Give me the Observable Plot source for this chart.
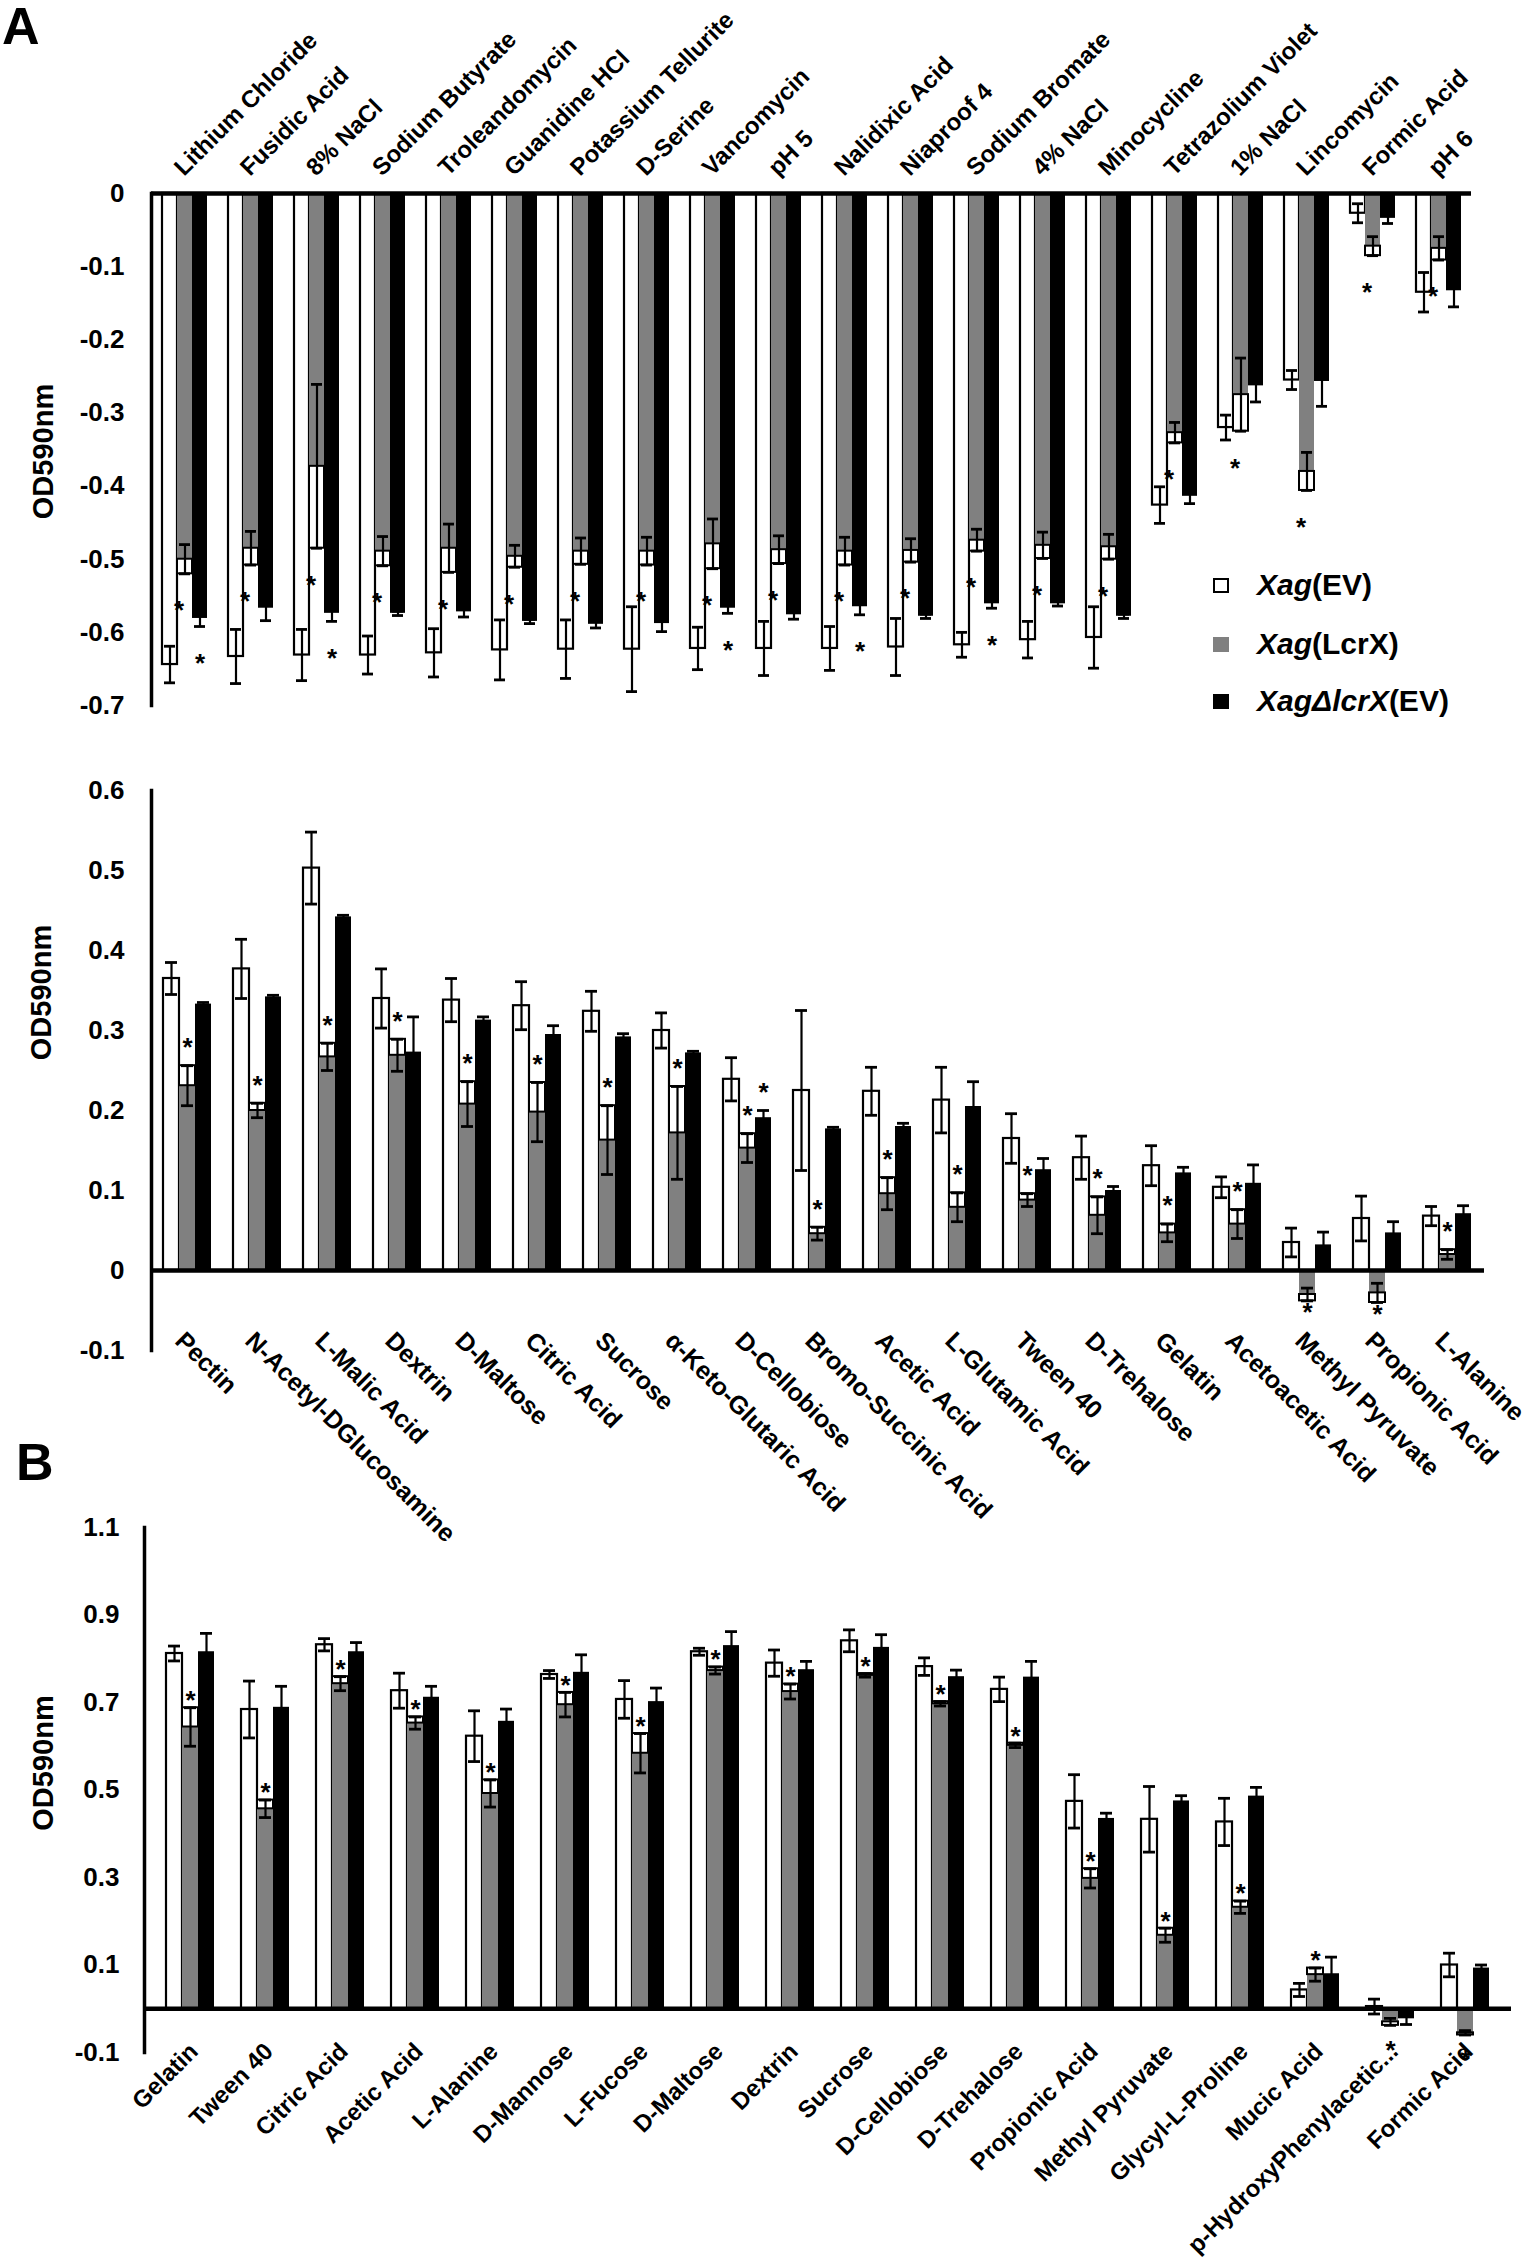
<!DOCTYPE html>
<html>
<head>
<meta charset="utf-8">
<script src="https://cdn.jsdelivr.net/npm/d3@7"></script>
<script src="https://cdn.jsdelivr.net/npm/@observablehq/plot@0.6"></script>
<style>
  body { margin: 0; background: #fff; }
  #wrap { position: relative; width: 1535px; height: 2263px; background: #fff;
          font-family: "Liberation Sans", Arial, sans-serif; color: #000; }
  .panel { position: absolute; left: 0; }
  .tag { position: absolute; font-weight: bold; font-size: 52px; line-height: 52px; }
  .lg { position: absolute; left: 1213px; height: 32px; display: flex; align-items: center;
        font-weight: bold; font-size: 30px; }
  .sw { width: 16px; height: 15px; box-sizing: border-box; margin-right: 28px; }
</style>
</head>
<body>
<div id="wrap"></div>
<script>
// ---------- series ----------
const series = ["EV", "LcrX", "dEV"];
const legendItalic = ["Xag", "Xag", "XagΔlcrX"];
const legendRest = ["(EV)", "(LcrX)", "(EV)"];

// ---------- Panel A (upper): inhibited growth ----------
const catsA1 = ["Lithium Chloride","Fusidic Acid","8% NaCl","Sodium Butyrate","Troleandomycin","Guanidine HCl","Potassium Tellurite","D-Serine","Vancomycin","pH 5","Nalidixic Acid","Niaproof 4","Sodium Bromate","4% NaCl","Minocycline","Tetrazolium Violet","1% NaCl","Lincomycin","Formic Acid","pH 6"];
const evA1    = [-0.644,-0.633,-0.631,-0.631,-0.628,-0.624,-0.623,-0.623,-0.622,-0.622,-0.622,-0.620,-0.617,-0.610,-0.607,-0.426,-0.320,-0.255,-0.027,-0.135];
const evA1Sd  = [0.025,0.037,0.035,0.026,0.033,0.041,0.040,0.058,0.029,0.037,0.030,0.039,0.017,0.025,0.042,0.025,0.017,0.013,0.013,0.027];
const lcrA1   = [-0.500,-0.485,-0.373,-0.489,-0.485,-0.496,-0.489,-0.489,-0.479,-0.487,-0.489,-0.488,-0.474,-0.481,-0.483,-0.327,-0.275,-0.380,-0.072,-0.075];
const lcrA1Sd = [0.020,0.023,0.112,0.020,0.033,0.015,0.018,0.019,0.034,0.019,0.019,0.016,0.015,0.018,0.017,0.014,0.050,0.026,0.013,0.016];
const dA1     = [-0.581,-0.567,-0.574,-0.574,-0.572,-0.585,-0.589,-0.588,-0.567,-0.576,-0.565,-0.578,-0.561,-0.561,-0.578,-0.414,-0.263,-0.257,-0.034,-0.133];
const dA1Sd   = [0.011,0.017,0.011,0.003,0.007,0.003,0.005,0.011,0.007,0.006,0.011,0.003,0.006,0.003,0.003,0.010,0.022,0.034,0.007,0.022];
const starLcrA1 = [1,1,1,1,1,1,1,1,1,1,1,1,1,1,1,1,1,1,1,1];
const starDA1   = [1,0,1,0,0,0,0,0,1,0,1,0,1,0,0,0,0,0,0,0];
const ticksA1 = [0,-0.1,-0.2,-0.3,-0.4,-0.5,-0.6,-0.7];

// ---------- Panel A (lower): enhanced growth ----------
const catsA2 = ["Pectin","N-Acetyl-DGlucosamine","L-Malic Acid","Dextrin","D-Maltose","Citric Acid","Sucrose","α-Keto-Glutaric Acid","D-Cellobiose","Bromo-Succinic Acid","Acetic Acid","L-Glutamic Acid","Tween 40","D-Trehalose","Gelatin","Acetoacetic Acid","Methyl Pyruvate","Propionic Acid","L-Alanine"];
const evA2    = [0.365,0.377,0.503,0.340,0.338,0.331,0.324,0.300,0.239,0.225,0.224,0.213,0.165,0.141,0.131,0.104,0.035,0.065,0.068];
const evA2Sd  = [0.020,0.037,0.045,0.037,0.027,0.030,0.025,0.022,0.027,0.100,0.030,0.041,0.031,0.027,0.025,0.013,0.018,0.028,0.012];
const lcrA2   = [0.231,0.200,0.267,0.269,0.208,0.198,0.163,0.172,0.153,0.046,0.096,0.079,0.088,0.069,0.047,0.058,-0.030,-0.028,0.020];
const lcrA2Sd = [0.025,0.009,0.017,0.020,0.028,0.037,0.043,0.058,0.018,0.008,0.020,0.018,0.008,0.023,0.011,0.018,0.008,0.012,0.006];
const dA2     = [0.333,0.342,0.442,0.273,0.313,0.295,0.292,0.272,0.191,0.177,0.180,0.205,0.126,0.100,0.122,0.109,0.032,0.047,0.071];
const dA2Sd   = [0.002,0.002,0.002,0.044,0.004,0.011,0.004,0.002,0.009,0.002,0.004,0.031,0.014,0.005,0.007,0.023,0.016,0.014,0.010];
const starLcrA2 = [1,1,1,1,1,1,1,1,1,1,1,1,1,1,1,1,1,1,1];
const starDA2   = [0,0,0,0,0,0,0,0,1,0,0,0,0,0,0,0,0,0,0];
const ticksA2 = [0.6,0.5,0.4,0.3,0.2,0.1,0,-0.1];

// ---------- Panel B ----------
const catsB = ["Gelatin","Tween 40","Citric Acid","Acetic Acid","L-Alanine","D-Mannose","L-Fucose","D-Maltose","Dextrin","Sucrose","D-Cellobiose","D-Trehalose","Propionic Acid","Methyl Pyruvate","Glycyl-L-Proline","Mucic Acid","p-HydroxyPhenylacetic...","Formic Acid"];
const evB    = [0.812,0.684,0.832,0.727,0.623,0.764,0.707,0.816,0.790,0.841,0.782,0.730,0.474,0.433,0.427,0.043,0.005,0.100];
const evBSd  = [0.017,0.065,0.014,0.040,0.058,0.009,0.043,0.008,0.030,0.025,0.020,0.028,0.061,0.075,0.054,0.015,0.017,0.027];
const lcrB   = [0.644,0.457,0.743,0.653,0.492,0.695,0.584,0.773,0.725,0.762,0.697,0.602,0.298,0.168,0.232,0.078,-0.030,-0.055];
const lcrBSd = [0.044,0.020,0.016,0.014,0.031,0.028,0.045,0.008,0.017,0.004,0.005,0.005,0.022,0.016,0.014,0.015,0.008,0.005];
const dB     = [0.816,0.689,0.816,0.712,0.657,0.769,0.702,0.830,0.775,0.826,0.759,0.758,0.435,0.475,0.486,0.080,-0.023,0.093];
const dBSd   = [0.042,0.048,0.021,0.025,0.028,0.040,0.031,0.032,0.019,0.029,0.015,0.036,0.012,0.012,0.020,0.038,0.013,0.007];
const starLcrB = [1,1,1,1,1,1,1,1,1,1,1,1,1,1,1,1,1,1];
const starDB   = [0,0,0,0,0,0,0,0,0,0,0,0,0,0,0,0,0,0];
const ticksB = [1.1,0.9,0.7,0.5,0.3,0.1,-0.1];

// ---------- helpers ----------
const fillOf = {EV: "#ffffff", LcrX: "#808080", dEV: "#000000"};
const FONT = "Liberation Sans, Arial, sans-serif";
const fmt = d => d === 0 ? "0" : String(Math.round(d * 10) / 10);

function rowsOf(cats, vals, sds, stars) {
  const rows = [];
  cats.forEach((c, i) => series.forEach((s, k) => {
    rows.push({cat: c, series: s, mean: vals[k][i], sd: sds[k][i], star: stars[k] ? !!stars[k][i] : false});
  }));
  return rows;
}
const outer = d => d.mean + (d.mean < 0 ? -d.sd : d.sd);

function common(o) {
  return {
    width: 1535, height: o.height,
    marginTop: o.mt, marginBottom: o.mb, marginLeft: o.ml, marginRight: o.mr,
    style: {background: "transparent", overflow: "visible", fontFamily: FONT}
  };
}

function barsPlot(o) {
  const rows = rowsOf(o.cats, o.vals, o.sds, o.stars);
  const ev = rows.filter(d => d.series === "EV");
  const gr = rows.filter(d => d.series === "LcrX");
  const bk = rows.filter(d => d.series === "dEV");
  const posStar = rows.filter(d => d.star && d.mean >= 0);
  const negStarG = rows.filter(d => d.star && d.mean < 0 && d.series === "LcrX");
  const negStarD = rows.filter(d => d.star && d.mean < 0 && d.series !== "LcrX");
  const sw = 2.2;
  return Plot.plot({
    ...common(o),
    fx: {domain: o.cats, paddingInner: o.pi, paddingOuter: o.po, axis: null, label: null},
    x: {domain: series, padding: 0, axis: null},
    y: {domain: o.yDomain, axis: null},
    marks: [
      Plot.barY(ev, {fx: "cat", x: "series", y1: 0, y2: "mean", fill: "#fff", stroke: "#000", strokeWidth: sw}),
      Plot.barY(gr, {fx: "cat", x: "series", y1: 0, y2: "mean", fill: fillOf.LcrX}),
      Plot.barY(bk, {fx: "cat", x: "series", y1: 0, y2: "mean", fill: fillOf.dEV}),
      Plot.barY(gr, {fx: "cat", x: "series", y1: "mean", y2: outer, fill: "#fff", stroke: "#000", strokeWidth: 2}),
      Plot.ruleX(rows, {fx: "cat", x: "series", y1: d => d.mean - d.sd, y2: d => d.mean + d.sd, stroke: "#000", strokeWidth: sw}),
      Plot.tickY(rows, {fx: "cat", x: "series", y: d => d.mean - d.sd, stroke: "#000", strokeWidth: sw + 0.6, insetLeft: 2, insetRight: 2}),
      Plot.tickY(rows, {fx: "cat", x: "series", y: d => d.mean + d.sd, stroke: "#000", strokeWidth: sw + 0.6, insetLeft: 2, insetRight: 2}),
      Plot.text(posStar, {fx: "cat", x: "series", y: outer, text: () => "*", dy: o.starUp, fontSize: 26, fontWeight: "bold"}),
      Plot.text(negStarG, {fx: "cat", x: "series", y: outer, text: () => "*", dy: o.starDown, dx: o.starGdx, fontSize: 26, fontWeight: "bold"}),
      Plot.text(negStarD, {fx: "cat", x: "series", y: outer, text: () => "*", dy: o.starDown, fontSize: 26, fontWeight: "bold"}),
      Plot.text(o.cats, {fx: d => d, text: d => d, frameAnchor: o.labAnchor, rotate: o.labRotate, textAnchor: o.labText, lineAnchor: "middle", dx: o.labDx, dy: o.labDy, fontSize: o.labSize, fontWeight: "bold"})
    ]
  });
}

function axesPlot(o) {
  return Plot.plot({
    ...common(o),
    y: {domain: o.yDomain, axis: null},
    marks: [
      Plot.ruleY([0], {stroke: "#000", strokeWidth: 4.5}),
      Plot.frame({anchor: "left", stroke: "#000", strokeWidth: 3.5}),
      Plot.text(o.ticks, {y: d => d, text: fmt, frameAnchor: "left", textAnchor: "end", dx: o.tickDx, fontSize: 26, fontWeight: "bold"}),
      Plot.text(["OD590nm"], {frameAnchor: "left", textAnchor: "middle", rotate: -90, dx: o.ylDx, dy: o.ylDy, fontSize: 29, fontWeight: "bold"})
    ]
  });
}

const wrap = document.getElementById("wrap");
function place(node, top) {
  node.classList.add("panel");
  node.style.top = top + "px";
  wrap.appendChild(node);
}
function panel(o, top) {
  place(barsPlot(o), top);
  place(axesPlot(o), top);
}

panel({
  cats: catsA1, vals: [evA1, lcrA1, dA1], sds: [evA1Sd, lcrA1Sd, dA1Sd], stars: [null, starLcrA1, starDA1],
  height: 760, mt: 193, mb: 55, ml: 151, mr: 64, pi: 0.305, po: 0.12, yDomain: [-0.7, 0], ticks: ticksA1,
  tickDx: -27, ylDx: -108, ylDy: 2, starUp: -18, starDown: 37, starGdx: -6,
  labAnchor: "top", labRotate: -45, labText: "start", labDx: -6, labDy: -22, labSize: 24
}, 0);

panel({
  cats: catsA2, vals: [evA2, lcrA2, dA2], sds: [evA2Sd, lcrA2Sd, dA2Sd], stars: [null, starLcrA2, starDA2],
  height: 800, mt: 30, mb: 210, ml: 151, mr: 51, pi: 0.31, po: 0.12, yDomain: [-0.1, 0.6], ticks: ticksA2,
  tickDx: -27, ylDx: -110, ylDy: -78, starUp: -18, starDown: 12, starGdx: 0,
  labAnchor: "bottom", labRotate: 45, labText: "start", labDx: -8, labDy: -14, labSize: 25
}, 760);

panel({
  cats: catsB, vals: [evB, lcrB, dB], sds: [evBSd, lcrBSd, dBSd], stars: [null, starLcrB, starDB],
  height: 843, mt: 107, mb: 211, ml: 144, mr: 24, pi: 0.345, po: 0.17, yDomain: [-0.1, 1.1], ticks: ticksB,
  tickDx: -25, ylDx: -101, ylDy: -27, starUp: -7, starDown: 25, starGdx: 0,
  labAnchor: "bottom", labRotate: -45, labText: "end", labDx: 4, labDy: -5, labSize: 24
}, 1420);

// panel tags
[["A", 2, 0], ["B", 16, 1436]].forEach(([t, x, y]) => {
  const d = document.createElement("div");
  d.className = "tag"; d.textContent = t;
  d.style.left = x + "px"; d.style.top = y + "px";
  wrap.appendChild(d);
});

// legend
const legendTop = [569, 628, 685];
series.forEach((s, i) => {
  const row = document.createElement("div");
  row.className = "lg";
  row.style.top = legendTop[i] + "px";
  const sw = document.createElement("div");
  sw.className = "sw";
  sw.style.background = fillOf[s];
  sw.style.border = s === "EV" ? "2px solid #000" : "none";
  const it = document.createElement("i");
  it.textContent = legendItalic[i];
  const rest = document.createElement("span");
  rest.textContent = legendRest[i];
  row.append(sw, it, rest);
  wrap.appendChild(row);
});
</script>
</body>
</html>
